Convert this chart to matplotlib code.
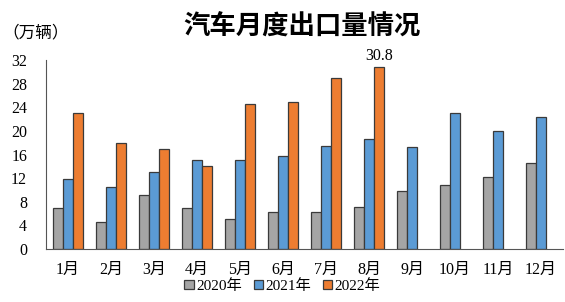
import numpy as np
import matplotlib.pyplot as plt

plt.rcParams['font.family'] = ['Liberation Serif', 'Noto Sans CJK SC']

months = ["1月", "2月", "3月", "4月", "5月", "6月", "7月", "8月", "9月", "10月", "11月", "12月"]
y2020 = [6.9, 4.5, 9.1, 7.0, 5.0, 6.2, 6.2, 7.1, 9.9, 10.9, 12.2, 14.5]
y2021 = [11.9, 10.5, 13.1, 15.1, 15.1, 15.8, 17.4, 18.7, 17.3, 23.1, 20.0, 22.3]
y2022 = [23.0, 18.0, 17.0, 14.0, 24.5, 24.9, 28.9, 30.8]
series = ["2020年", "2021年", "2022年"]
colors = ["#A5A5A5", "#5B9BD5", "#ED7D31"]

fig = plt.figure(figsize=(5.65, 3.02), dpi=100)
ax = fig.add_axes([0.0823, 0.1755, 0.9133, 0.6255])

x = np.arange(len(months))
w = 0.235
for i, (vals, c, lab) in enumerate(zip([y2020, y2021, y2022], colors, series)):
    xs = x[:len(vals)] + (i - 1) * w
    ax.bar(xs, vals, w, color=c, edgecolor="#3a3a3a", linewidth=0.9, label=lab)

# label on peak
ax.text(x[7] + w, y2022[7] + 0.5, "30.8", ha="center", va="bottom", fontsize=11.5)

ax.set_xlim(-0.5, len(months) - 0.5)
ax.set_ylim(0, 32)
ax.set_yticks(range(0, 33, 4))
ax.set_xticks(x)
ax.set_xticklabels(months, fontsize=11)
ax.tick_params(axis="both", length=0, labelsize=11.5)
ax.tick_params(axis="y", pad=14)
ax.tick_params(axis="x", pad=9)
for s in ["top", "right"]:
    ax.spines[s].set_visible(False)
ax.spines["left"].set_color("#555555")
ax.spines["bottom"].set_color("#555555")

fig.text(0.535, 0.91, "汽车月度出口量情况", ha="center", va="center",
         fontsize=19, fontweight="bold", family=["Noto Sans CJK SC"])
fig.text(0.005, 0.89, "（万辆）", ha="left", va="center", fontsize=12,
         family=["Noto Sans CJK SC"])

fig.legend(loc="lower center", bbox_to_anchor=(0.5, -0.015), ncol=3, frameon=False,
           fontsize=11, handlelength=0.6, handleheight=0.6, handletextpad=0.15,
           columnspacing=0.8)

plt.savefig("out.png", dpi=100)
